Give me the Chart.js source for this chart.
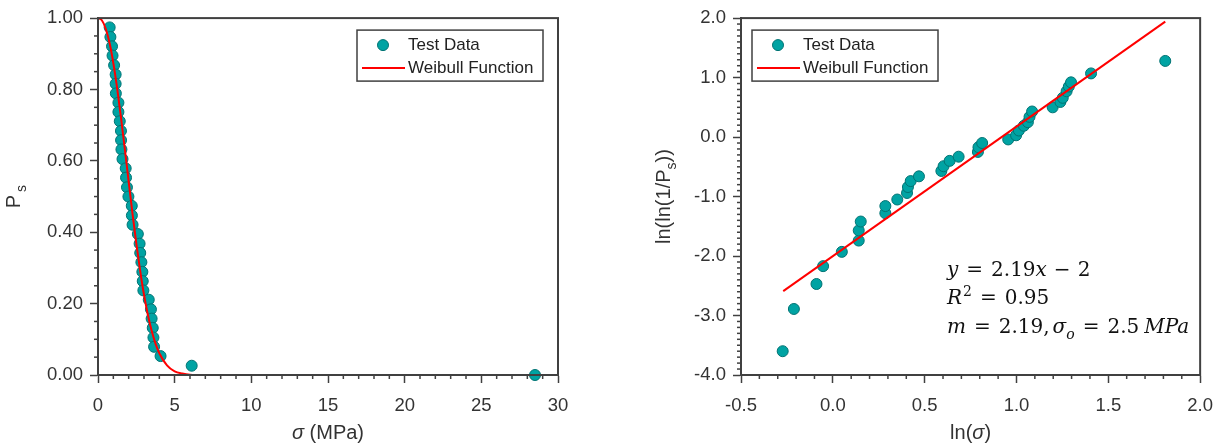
<!DOCTYPE html>
<html>
<head>
<meta charset="utf-8">
<script src="https://cdn.jsdelivr.net/npm/chart.js@4.4.0/dist/chart.umd.min.js"></script>
<style>
  body { margin: 0; background: #fff; }
  #weibull-chart { position: absolute; left: 0; top: 0; }
  #lnln-chart { position: absolute; left: 600px; top: 0; }
</style>
</head>
<body>
<canvas id="weibull-chart" width="600" height="447"></canvas>
<canvas id="lnln-chart" width="625" height="447"></canvas>
<script>
// Left panel: survival probability vs stress
const stressMPa = [0.761, 0.809, 0.915, 0.948, 1.050, 1.151, 1.151, 1.164, 1.331, 1.331,
  1.420, 1.498, 1.505, 1.528, 1.598, 1.806, 1.828, 1.889, 1.984, 2.203,
  2.210, 2.255, 2.599, 2.713, 2.754, 2.829, 2.892, 2.918, 2.959, 3.310,
  3.452, 3.497, 3.571, 3.615, 3.658, 4.080, 6.110, 28.5];
const survivalProb = [0.974, 0.947, 0.921, 0.895, 0.868, 0.842, 0.816, 0.789, 0.763, 0.737,
  0.711, 0.684, 0.658, 0.632, 0.605, 0.579, 0.553, 0.526, 0.500, 0.474,
  0.447, 0.421, 0.395, 0.368, 0.342, 0.316, 0.289, 0.263, 0.237, 0.211,
  0.184, 0.158, 0.132, 0.105, 0.079, 0.053, 0.026, 0.000];
const curveStress = [0, 0.25, 0.5, 0.75, 1.0, 1.25, 1.5, 1.75, 2.0, 2.25, 2.5, 2.75,
  3.0, 3.25, 3.5, 3.75, 4.0, 4.5, 5.0, 5.5, 6.0, 7.0, 30];
const curveProb = [1.000, 0.994, 0.971, 0.931, 0.874, 0.803, 0.721, 0.633, 0.542, 0.452, 0.368, 0.292,
  0.225, 0.169, 0.124, 0.088, 0.061, 0.027, 0.010, 0.004, 0.001, 0.000, 0.000];

// Right panel: linearised Weibull plot
const lnStress = [-0.273, -0.212, -0.089, -0.053, 0.049, 0.141, 0.141, 0.152, 0.286, 0.286,
  0.351, 0.404, 0.409, 0.424, 0.469, 0.591, 0.603, 0.636, 0.685, 0.790,
  0.793, 0.813, 0.955, 0.998, 1.013, 1.040, 1.062, 1.071, 1.085, 1.197,
  1.239, 1.252, 1.273, 1.285, 1.297, 1.406, 1.810];
const lnLnInvPs = [-3.60, -2.89, -2.47, -2.17, -1.93, -1.74, -1.57, -1.42, -1.28, -1.16,
  -1.05, -0.94, -0.84, -0.74, -0.66, -0.57, -0.49, -0.40, -0.33, -0.25,
  -0.17, -0.10, -0.04, 0.03, 0.11, 0.19, 0.25, 0.34, 0.43, 0.50,
  0.59, 0.66, 0.77, 0.85, 0.92, 1.07, 1.28];
const fitLnStress = [-0.27, 1.81];
const fitLnLn = [-2.59, 1.94];

const ink = '#404040';
const sans = '"Liberation Sans", Arial, sans-serif';
const serif = '"DejaVu Serif", "Liberation Serif", serif';

function toPoints(xs, ys) {
  return xs.map((x, i) => ({ x: x, y: ys[i] }));
}

// draw a run of text pieces (italic / subscript / superscript)
function drawRich(ctx, parts, x, y, size, family, align) {
  const fontOf = p => (p.it ? 'italic ' : '') + Math.round(p.sub || p.sup ? size * 0.7 : size) + 'px ' + family;
  let width = 0;
  parts.forEach(p => { ctx.font = fontOf(p); width += (p.gap || 0) + ctx.measureText(p.t).width; });
  let cx = align === 'center' ? x - width / 2 : x;
  ctx.textAlign = 'left';
  ctx.textBaseline = 'alphabetic';
  parts.forEach(p => {
    ctx.font = fontOf(p);
    cx += p.gap || 0;
    let dy = 0;
    if (p.sub) dy = size * 0.3;
    if (p.sup) dy = -size * 0.4;
    ctx.fillText(p.t, cx, y + dy);
    cx += ctx.measureText(p.t).width;
  });
}

const minorTicks = {
  id: 'minorTicks',
  afterDraw(chart, args, opts) {
    const ctx = chart.ctx, area = chart.chartArea;
    ctx.save();
    ctx.strokeStyle = ink;
    ctx.lineWidth = 1.5;
    ['x', 'y'].forEach(id => {
      const scale = chart.scales[id];
      const step = opts[id], major = scale.options.ticks.stepSize;
      const n = Math.round((scale.max - scale.min) / step);
      for (let k = 0; k <= n; k++) {
        const v = scale.min + k * step;
        if (Math.abs(v / major - Math.round(v / major)) < 1e-6) continue;
        const p = scale.getPixelForValue(v);
        ctx.beginPath();
        if (id === 'x') { ctx.moveTo(p, area.bottom); ctx.lineTo(p, area.bottom + 4); }
        else { ctx.moveTo(area.left, p); ctx.lineTo(area.left - 4, p); }
        ctx.stroke();
      }
    });
    ctx.restore();
  }
};

const frame = {
  id: 'frame',
  afterDraw(chart) {
    const ctx = chart.ctx, a = chart.chartArea;
    ctx.save();
    ctx.strokeStyle = ink;
    ctx.lineWidth = 2;
    ctx.strokeRect(a.left, a.top, a.right - a.left, a.bottom - a.top);
    ctx.restore();
  }
};

const boxLegend = {
  id: 'boxLegend',
  afterDraw(chart, args, opts) {
    const ctx = chart.ctx, a = chart.chartArea;
    const left = a.left + opts.dx, top = a.top + 12;
    const pts = chart.data.datasets[1], line = chart.data.datasets[0];
    ctx.save();
    ctx.fillStyle = '#fff';
    ctx.fillRect(left, top, 186, 51);
    ctx.strokeStyle = ink;
    ctx.lineWidth = 1.5;
    ctx.strokeRect(left, top, 186, 51);
    ctx.beginPath();
    ctx.arc(left + 26, top + 15, 5.5, 0, Math.PI * 2);
    ctx.fillStyle = pts.backgroundColor;
    ctx.fill();
    ctx.strokeStyle = pts.borderColor;
    ctx.lineWidth = 1;
    ctx.stroke();
    ctx.beginPath();
    ctx.moveTo(left + 5, top + 38);
    ctx.lineTo(left + 48, top + 38);
    ctx.strokeStyle = line.borderColor;
    ctx.lineWidth = 2;
    ctx.stroke();
    ctx.fillStyle = '#222';
    ctx.font = '17px ' + sans;
    ctx.textBaseline = 'middle';
    ctx.textAlign = 'left';
    ctx.fillText(pts.label, left + 51, top + 15);
    ctx.fillText(line.label, left + 51, top + 38);
    ctx.restore();
  }
};

const axisTitles = {
  id: 'axisTitles',
  afterDraw(chart, args, opts) {
    const ctx = chart.ctx, a = chart.chartArea;
    ctx.save();
    ctx.fillStyle = '#333';
    drawRich(ctx, opts.x, (a.left + a.right) / 2, 439, 20, sans, 'center');
    ctx.translate(opts.yPos, (a.top + a.bottom) / 2);
    ctx.rotate(-Math.PI / 2);
    drawRich(ctx, opts.y, 0, 0, 20, sans, 'center');
    ctx.restore();
  }
};

const fitNote = {
  id: 'fitNote',
  afterDraw(chart) {
    const ctx = chart.ctx, a = chart.chartArea;
    const x0 = a.left + 206;
    ctx.save();
    ctx.fillStyle = '#111';
    drawRich(ctx, [{ t: 'y', it: true }, { t: '=', gap: 8 }, { t: '2.19', gap: 8 }, { t: 'x', it: true },
      { t: '\u2212', gap: 7 }, { t: '2', gap: 7 }], x0, a.top + 258, 20, serif, 'left');
    drawRich(ctx, [{ t: 'R', it: true }, { t: '2', sup: true, gap: 1 }, { t: '=', gap: 8 }, { t: '0.95', gap: 8 }],
      x0, a.top + 286, 20, serif, 'left');
    drawRich(ctx, [{ t: 'm', it: true }, { t: '=', gap: 8 }, { t: '2.19,', gap: 8 }, { t: '\u03c3', it: true, gap: 3 },
      { t: 'o', it: true, sub: true }, { t: '=', gap: 8 }, { t: '2.5', gap: 8 }, { t: 'MPa', it: true, gap: 5 }],
      x0, a.top + 315, 20, serif, 'left');
    ctx.restore();
  }
};

function axis(min, max, step, digits, fixedSize, isX) {
  return {
    type: 'linear',
    min: min,
    max: max,
    afterFit(scale) { if (isX) scale.height = fixedSize; else scale.width = fixedSize; },
    border: { display: true, color: ink, width: 2 },
    grid: { drawOnChartArea: false, drawTicks: true, tickLength: 8, tickColor: ink, tickWidth: 1.5 },
    ticks: {
      stepSize: step,
      padding: isX ? 12 : 7,
      color: '#333',
      font: { family: sans, size: 18.5 },
      maxRotation: 0,
      autoSkip: false,
      callback: v => v.toFixed(digits)
    }
  };
}

function pointSet(xs, ys) {
  return {
    label: 'Test Data',
    data: toPoints(xs, ys),
    backgroundColor: '#00a3a3',
    borderColor: '#007373',
    borderWidth: 1,
    pointRadius: 5.5,
    showLine: false,
    clip: false,
    order: 1
  };
}

function fitSet(xs, ys) {
  return {
    label: 'Weibull Function',
    data: toPoints(xs, ys),
    borderColor: '#ff0000',
    backgroundColor: '#ff0000',
    borderWidth: 2,
    pointRadius: 0,
    showLine: true,
    cubicInterpolationMode: 'monotone',
    clip: false,
    order: 0
  };
}

function createWeibullChart() {
  new Chart(document.getElementById('weibull-chart'), {
    type: 'scatter',
    data: { datasets: [fitSet(curveStress, curveProb), pointSet(stressMPa, survivalProb)] },
    options: {
      responsive: false,
      animation: false,
      layout: { padding: { top: 17, right: 42, left: 0, bottom: 0 } },
      scales: {
        x: axis(0, 30, 5, 0, 72, true),
        y: axis(0, 1, 0.2, 2, 98, false)
      },
      plugins: {
        legend: { display: false },
        tooltip: { enabled: false },
        minorTicks: { x: 1, y: 0.05 },
        boxLegend: { dx: 259 },
        axisTitles: {
          x: [{ t: '\u03c3', it: true }, { t: ' (MPa)' }],
          y: [{ t: 'P' }, { t: 's', sub: true, gap: 3 }],
          yPos: 20
        }
      }
    },
    plugins: [minorTicks, frame, boxLegend, axisTitles]
  });
}

function createLnLnChart() {
  new Chart(document.getElementById('lnln-chart'), {
    type: 'scatter',
    data: { datasets: [fitSet(fitLnStress, fitLnLn), pointSet(lnStress, lnLnInvPs)] },
    options: {
      responsive: false,
      animation: false,
      layout: { padding: { top: 17, right: 24, left: 0, bottom: 0 } },
      scales: {
        x: axis(-0.5, 2, 0.5, 1, 72, true),
        y: axis(-4, 2, 1, 1, 141, false)
      },
      plugins: {
        legend: { display: false },
        tooltip: { enabled: false },
        minorTicks: { x: 0.1, y: 0.1 },
        boxLegend: { dx: 11 },
        axisTitles: {
          x: [{ t: 'ln(' }, { t: '\u03c3', it: true }, { t: ')' }],
          y: [{ t: 'ln(ln(1/P' }, { t: 's', sub: true }, { t: '))' }],
          yPos: 70
        }
      }
    },
    plugins: [minorTicks, frame, boxLegend, axisTitles, fitNote]
  });
}

createWeibullChart();
createLnLnChart();
</script>
</body>
</html>
